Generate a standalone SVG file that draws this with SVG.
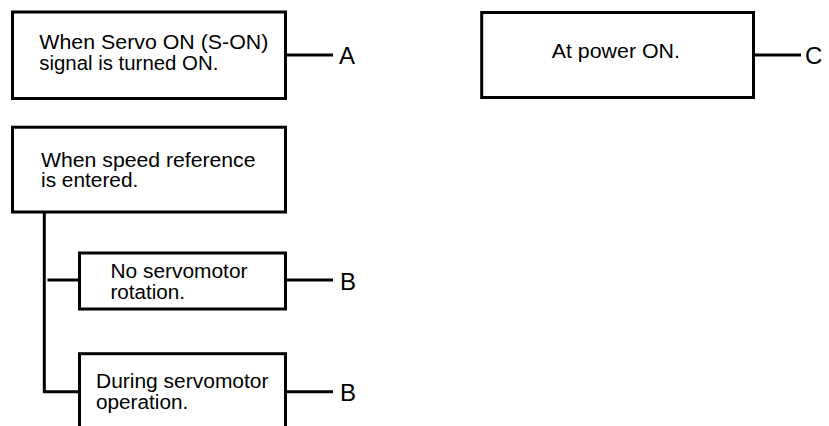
<svg xmlns="http://www.w3.org/2000/svg" width="829" height="426" viewBox="0 0 829 426">
<style>
.box{fill:#fff;stroke:#000;stroke-width:3}
.conn line,.conn path{stroke:#000;stroke-width:3;fill:none}
.t{font-family:"Liberation Sans",Arial,sans-serif;font-size:20px;fill:#000}
.lbl{font-family:"Liberation Sans",Arial,sans-serif;font-size:24px;fill:#000}
</style>
<rect width="829" height="426" fill="#fff"/>
<g id="connectors" class="conn">
<line x1="285.5" y1="55" x2="333" y2="55"/>
<line x1="753.5" y1="55" x2="801" y2="55"/>
<path d="M44.3 212 V391.7 H79.5"/>
<line x1="47.5" y1="280" x2="79.5" y2="280"/>
<line x1="285.5" y1="280" x2="333" y2="280"/>
<line x1="285.5" y1="391.7" x2="333" y2="391.7"/>
</g>
<g id="node-servo-on">
<rect class="box" x="12.5" y="12" width="273" height="86.5"/>
<text class="t" x="39.3" y="49" textLength="229" lengthAdjust="spacingAndGlyphs">When Servo ON (S-ON)</text>
<text class="t" x="39.3" y="69.5" textLength="179" lengthAdjust="spacingAndGlyphs">signal is turned ON.</text>
</g>
<g id="label-a"><text class="lbl" x="339" y="64">A</text></g>
<g id="node-power-on">
<rect class="box" x="481.7" y="12.5" width="271.8" height="85"/>
<text class="t" x="551.7" y="58.3" textLength="128.3" lengthAdjust="spacingAndGlyphs">At power ON.</text>
</g>
<g id="label-c"><text class="lbl" x="805" y="64">C</text></g>
<g id="node-speed-ref">
<rect class="box" x="12.5" y="127.2" width="273" height="84.8"/>
<text class="t" x="41" y="166.5" textLength="214.5" lengthAdjust="spacingAndGlyphs">When speed reference</text>
<text class="t" x="41" y="187" textLength="97.3" lengthAdjust="spacingAndGlyphs">is entered.</text>
</g>
<g id="node-no-rotation">
<rect class="box" x="79.5" y="253" width="206" height="56"/>
<text class="t" x="110.5" y="278" textLength="137" lengthAdjust="spacingAndGlyphs">No servomotor</text>
<text class="t" x="110.5" y="298.5" textLength="74.5" lengthAdjust="spacingAndGlyphs">rotation.</text>
</g>
<g id="label-b1"><text class="lbl" x="340" y="290">B</text></g>
<g id="node-during-operation">
<rect class="box" x="79.5" y="353.7" width="206" height="90"/>
<text class="t" x="96" y="388" textLength="172.5" lengthAdjust="spacingAndGlyphs">During servomotor</text>
<text class="t" x="96" y="408.5" textLength="92.3" lengthAdjust="spacingAndGlyphs">operation.</text>
</g>
<g id="label-b2"><text class="lbl" x="340" y="401">B</text></g>
</svg>
